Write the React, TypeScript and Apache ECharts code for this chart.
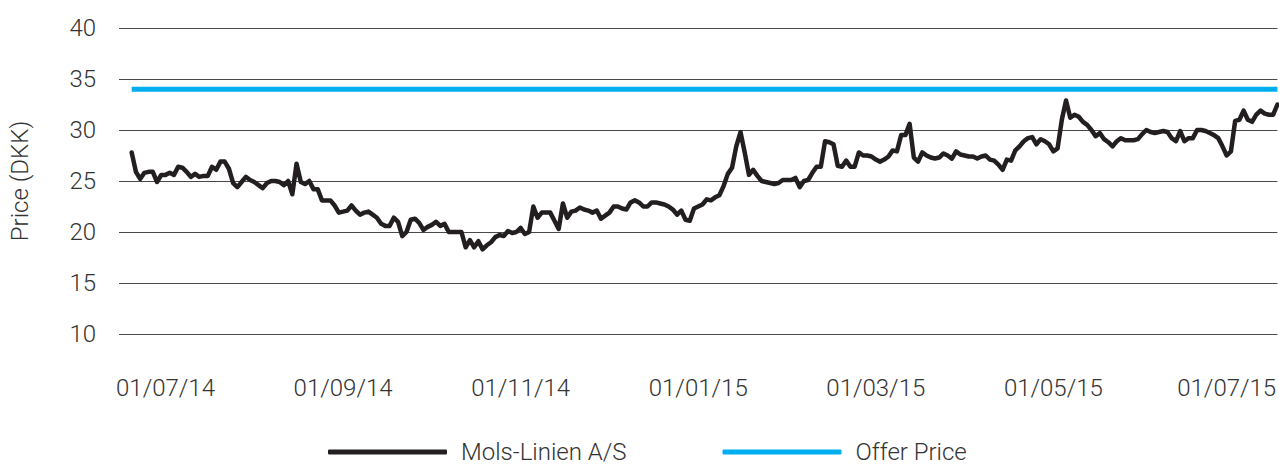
import { useEffect, useRef } from 'react';
import * as echarts from 'echarts';

// Tick labels on the date axis and the trading-day index where each sits
const xTickLabels = ['01/07/14', '01/09/14', '01/11/14', '01/01/15', '01/03/15', '01/05/15', '01/07/15'];
const xTickIndex = [11, 53, 95, 137, 179, 221, 262];
// empty trading slots before the first quoted price
const leadingSlots = 3;

// Mols-Linien A/S closing price (DKK)
const molsLinien = [
  27.8, 25.9, 25.2, 25.8, 25.9, 25.9, 24.9, 25.6, 25.6, 25.8, 25.6, 26.4, 26.3, 25.9, 25.4,
  25.7, 25.4, 25.5, 25.5, 26.4, 26.1, 26.9, 26.9, 26.2, 24.8, 24.4, 24.9, 25.4, 25.1, 24.9,
  24.6, 24.3, 24.8, 25.0, 25.0, 24.9, 24.6, 25.0, 23.7, 26.7, 24.9, 24.7, 25.0, 24.2, 24.2,
  23.1, 23.1, 23.1, 22.6, 21.9, 22.0, 22.1, 22.6, 22.1, 21.7, 21.9, 22.0, 21.7, 21.4, 20.8,
  20.6, 20.6, 21.4, 21.0, 19.6, 20.0, 21.2, 21.3, 20.9, 20.2, 20.5, 20.7, 21.0, 20.6, 20.8,
  20.0, 20.0, 20.0, 20.0, 18.5, 19.2, 18.5, 19.1, 18.3, 18.7, 19.0, 19.5, 19.7, 19.6, 20.1,
  19.9, 20.0, 20.4, 19.8, 20.0, 22.5, 21.4, 21.9, 21.9, 21.9, 21.1, 20.3, 22.8, 21.4, 22.0,
  22.1, 22.4, 22.2, 22.1, 21.9, 22.1, 21.3, 21.6, 21.9, 22.5, 22.5, 22.3, 22.2, 22.9, 23.1,
  22.9, 22.5, 22.5, 22.9, 22.9, 22.8, 22.7, 22.5, 22.2, 21.7, 22.1, 21.2, 21.1, 22.3, 22.5,
  22.7, 23.2, 23.1, 23.4, 23.6, 24.5, 25.7, 26.3, 28.4, 29.8, 27.8, 25.6, 26.1, 25.5, 25.0,
  24.9, 24.8, 24.7, 24.8, 25.1, 25.1, 25.1, 25.3, 24.4, 25.0, 25.1, 25.8, 26.4, 26.4, 28.9,
  28.8, 28.6, 26.5, 26.4, 27.0, 26.4, 26.4, 27.8, 27.5, 27.5, 27.4, 27.1, 26.9, 27.1, 27.4,
  28.0, 27.9, 29.5, 29.5, 30.6, 27.3, 26.9, 27.8, 27.5, 27.3, 27.2, 27.3, 27.7, 27.5, 27.2,
  27.9, 27.6, 27.5, 27.4, 27.4, 27.2, 27.4, 27.5, 27.1, 27.0, 26.6, 26.1, 27.1, 27.0, 28.0,
  28.4, 28.9, 29.2, 29.3, 28.6, 29.1, 28.9, 28.6, 27.9, 28.2, 31.0, 32.9, 31.2, 31.5, 31.3,
  30.8, 30.5, 30.0, 29.4, 29.7, 29.1, 28.8, 28.4, 28.9, 29.2, 29.0, 29.0, 29.0, 29.1, 29.6,
  30.0, 29.8, 29.7, 29.8, 29.9, 29.8, 29.2, 28.9, 29.9, 28.9, 29.2, 29.2, 30.0, 30.0, 29.9,
  29.7, 29.5, 29.2, 28.4, 27.5, 27.9, 30.9, 31.0, 31.9, 31.0, 30.8, 31.5, 31.9, 31.6, 31.5,
  31.5, 32.5,
];

// Offer price (DKK)
const offerPrice = 34;

// Y axis range
const yMin = 10;
const yMax = 40;
const yStep = 5;

const seriesNames = ['Mols-Linien A/S', 'Offer Price'];
const seriesColors = ['#231f20', '#00aeef'];
const FONT = 'Roboto, "DejaVu Sans", sans-serif';

export default function App() {
  const ref = useRef<HTMLDivElement>(null);

  useEffect(() => {
    if (!ref.current) return;
    const chart = echarts.init(ref.current, undefined, { renderer: 'svg' });

    const total = leadingSlots + molsLinien.length;
    const categories = Array.from({ length: total }, (_, i) => String(i));
    const labelMap: Record<string, string> = {};
    xTickIndex.forEach((idx, k) => {
      labelMap[String(idx)] = xTickLabels[k];
    });
    const pad = Array.from({ length: leadingSlots }, () => null);
    const molsData = [...pad, ...molsLinien];
    const offerData = [...pad, ...molsLinien.map(() => offerPrice)];

    const labelStyle = {
      fontFamily: FONT,
      fontSize: 24,
      fontWeight: 300,
      color: '#333333',
    };

    chart.setOption({
      animation: false,
      textStyle: { fontFamily: FONT },
      grid: { left: 115, right: 0, top: 28, bottom: 132, containLabel: false },
      legend: {
        data: seriesNames.map((n, i) => ({
          name: n,
          icon: 'roundRect',
          itemStyle: { color: seriesColors[i] },
        })),
        left: 328,
        top: 440,
        padding: 0,
        itemWidth: 119,
        itemHeight: 5,
        itemGap: 96,
        textStyle: {
          fontFamily: FONT,
          fontSize: 24,
          lineHeight: 24,
          fontWeight: 300,
          color: '#333333',
          padding: [0, 0, 0, 9],
        },
      },
      xAxis: {
        type: 'category',
        data: categories,
        boundaryGap: false,
        axisLine: { show: false },
        axisTick: { show: false },
        splitLine: { show: false },
        axisLabel: {
          ...labelStyle,
          interval: (index: number) => xTickIndex.includes(index),
          formatter: (v: string) => labelMap[v] ?? '',
          margin: 42,
          hideOverlap: false,
        },
      },
      yAxis: {
        type: 'value',
        min: yMin,
        max: yMax,
        interval: yStep,
        name: 'Price (DKK)',
        nameLocation: 'middle',
        nameGap: 87,
        nameRotate: 90,
        nameTextStyle: labelStyle,
        axisLine: { show: false },
        axisTick: { show: false },
        axisLabel: { ...labelStyle, margin: 23 },
        splitLine: { lineStyle: { color: '#4a4a4a', width: 1 } },
      },
      series: [
        {
          name: seriesNames[0],
          type: 'line',
          data: molsData,
          symbol: 'none',
          connectNulls: false,
          lineStyle: { color: seriesColors[0], width: 4.5, join: 'round', cap: 'round' },
          itemStyle: { color: seriesColors[0] },
          z: 3,
        },
        {
          name: seriesNames[1],
          type: 'line',
          data: offerData,
          symbol: 'none',
          lineStyle: { color: seriesColors[1], width: 5 },
          itemStyle: { color: seriesColors[1] },
          z: 2,
        },
      ],
    });

    return () => chart.dispose();
  }, []);

  return (
    <div
      ref={ref}
      style={{ position: 'fixed', left: 0, top: 0, width: 1279, height: 466, background: '#ffffff' }}
    />
  );
}
